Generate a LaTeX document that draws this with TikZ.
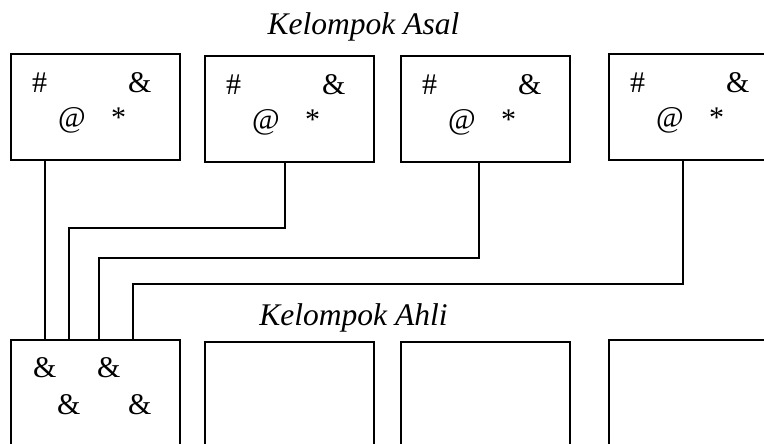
\documentclass[tikz,border=0pt]{standalone}
\usepackage{fontspec}
\setmainfont{Liberation Serif}
\begin{document}
\begin{tikzpicture}[x=1pt,y=1pt,
  grp/.style={draw=black,line width=1.2pt,rectangle,minimum width=169pt,minimum height=106pt,anchor=north west,inner sep=0pt,outer sep=0pt},
  expert/.style={grp,minimum height=130pt},
  sym/.style={anchor=base west,inner sep=0pt,font=\fontsize{30}{35}\selectfont},
  title/.style={anchor=base,inner sep=0pt,font=\fontsize{31.5}{37}\selectfont\itshape},
  link/.style={draw=black,line width=1.2pt}]
\useasboundingbox (0,0) rectangle (764,444);
\clip (0,0) rectangle (764,444);

% home groups
\node[grp] (t1) at (11,390) {};
\node[grp] (t2) at (205,388) {};
\node[grp] (t3) at (401,388) {};
\node[grp] (t4) at (609,390) {};

% symbols inside each home group
\foreach \b in {t1,t2,t3,t4}{
  \node[sym] (\b h) at ([shift={(21,-39)}]\b.north west) {\#};
  \node[sym] (\b a) at ([shift={(117,-39)}]\b.north west) {\&};
  \node[sym] (\b t) at ([shift={(47,-74)}]\b.north west) {@};
  \node[sym] (\b s) at ([shift={(100,-74)}]\b.north west) {*};
}

% expert groups
\node[expert] (e1) at (11,104) {};
\node[expert] (e2) at (205,102) {};
\node[expert] (e3) at (401,102) {};
\node[expert] (e4) at (609,104) {};

\node[sym] (e1a) at ([shift={(22,-38)}]e1.north west) {\&};
\node[sym] (e1b) at ([shift={(86,-38)}]e1.north west) {\&};
\node[sym] (e1c) at ([shift={(46,-75)}]e1.north west) {\&};
\node[sym] (e1d) at ([shift={(117,-75)}]e1.north west) {\&};

% titles
\node[title] (asal) at (363.5,409) {Kelompok Asal};
\node[title] (ahli) at (353.5,118) {Kelompok Ahli};

% connectors from home groups to the first expert group
\draw[link] ([xshift=34]t1.south west) -- ([xshift=34]e1.north west);
\draw[link] ([xshift=80]t2.south west) -- ++(0,-66) -| ([xshift=58]e1.north west);
\draw[link] ([xshift=78]t3.south west) -- ++(0,-96) -| ([xshift=88]e1.north west);
\draw[link] ([xshift=74]t4.south west) -- ++(0,-124) -| ([xshift=122]e1.north west);
\end{tikzpicture}
\end{document}
